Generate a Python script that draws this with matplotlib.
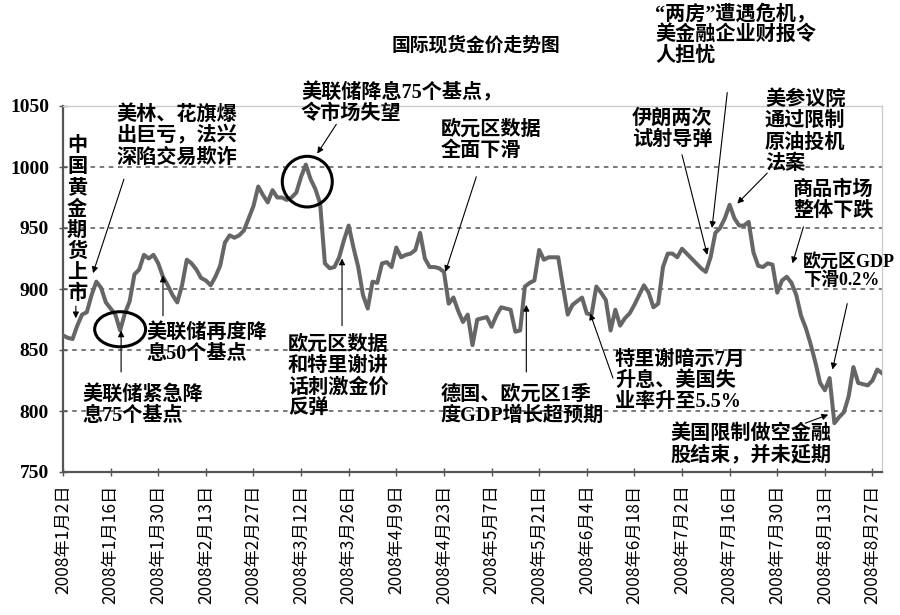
import numpy as np
import pandas as pd
import matplotlib
matplotlib.use('Agg')
import matplotlib.pyplot as plt
from matplotlib.patches import Ellipse

plt.rcParams['font.family'] = ['Liberation Serif', 'Noto Sans CJK SC']
plt.rcParams['axes.unicode_minus'] = False

# 国际现货金价 (美元/盎司), 2008-01-02 起每个交易日
price = [
    862, 860, 859, 870, 879, 881, 895, 906, 901, 889,
    884, 879, 866, 880, 890, 912, 916, 928, 925, 928,
    921, 910, 903, 895, 889, 903, 924, 921, 916, 909,
    907, 903, 910, 919, 938, 944, 942, 944, 948, 958,
    968, 984, 977, 971, 981, 975, 975, 973, 975, 979,
    992, 1002, 990, 982, 970, 921, 917, 918, 926, 940,
    952, 934, 918, 895, 884, 906, 905, 921, 922, 918,
    934, 926, 928, 929, 932, 946, 925, 918, 918, 917,
    914, 888, 893, 882, 873, 879, 854, 875, 876, 877,
    869, 878, 885, 884, 883, 865, 866, 902, 905, 907,
    932, 924, 926, 926, 926, 902, 879, 887, 890, 893,
    880, 879, 902, 897, 891, 866, 883, 870, 876, 880,
    887, 895, 903, 897, 885, 888, 918, 929, 929, 926,
    933, 929, 925, 921, 917, 914, 926, 946, 950, 958,
    969, 958, 952, 952, 955, 930, 919, 918, 921, 920,
    897, 907, 910, 905, 895, 878, 868, 855, 840, 823,
    817, 827, 790, 795, 799, 812, 836, 823, 822, 821,
    825, 834, 831,
]
dates = pd.bdate_range('2008-01-02', periods=len(price))
tick_idx = list(range(0, len(price), 10))
tick_labels = [f"{dates[i].year}年{dates[i].month}月{dates[i].day}日" for i in tick_idx]
y_ticks = [750, 800, 850, 900, 950, 1000, 1050]

# (文字, 左上角像素位置, 箭尾(数据坐标), 箭头(数据坐标))
notes = [
    ("中\n国\n黄\n金\n期\n货\n上\n市", (67, 136), (2.7, 886), (2.7, 876)),
    ("美林、花旗爆\n出巨亏，法兴\n深陷交易欺诈", (116, 105), (12.8, 990), (6.3, 913)),
    ("美联储紧急降\n息75个基点", (82, 385), (12.2, 832), (12.2, 866)),
    ("美联储再度降\n息50个基点", (146, 323), (21.0, 878), (21.0, 911)),
    ("美联储降息75个基点，\n令市场失望", (301, 83), (57.4, 1035), (53.4, 1011)),
    ("欧元区数据\n全面下滑", (441, 120), (86.8, 992), (80.3, 914)),
    ("欧元区数据\n和特里谢讲\n话刺激金价\n反弹", (288, 335), (58.6, 870), (58.6, 925)),
    ("德国、欧元区1季\n度GDP增长超预期", (441, 385), (97.3, 832), (97.3, 887)),
    ("特里谢暗示7月\n升息、美国失\n业率升至5.5%", (615, 350), (115.5, 827), (110.7, 880)),
    ("伊朗两次\n试射导弹", (632, 109), (130.0, 1010), (135.3, 928)),
    ("“两房”遭遇危机，\n美金融企业财报令\n人担忧", (655, 4), (139.5, 1061), (136.3, 950)),
    ("美参议院\n通过限制\n原油投机\n法案", (765, 90), (147.9, 995), (141.6, 970)),
    ("商品市场\n整体下跌", (793, 180), (155.5, 951), (153.2, 921)),
    ("欧元区GDP\n下滑0.2%", (803, 253), (164.7, 888), (161.6, 834)),
    ("美国限制做空金融\n股结束，并未延期", (670, 424), (155.9, 790), (160.7, 797)),
]
small_notes = {"欧元区GDP\n下滑0.2%": 13.0}

W, H = 900, 615
fig = plt.figure(figsize=(9, 6.15), dpi=100)
ax = fig.add_axes([63 / W, 1 - 472 / H, (882 - 63) / W, (472 - 106) / H])

x = np.arange(len(price))
ax.plot(x, price, color='#666666', linewidth=2.9, solid_joinstyle='round', zorder=3)

ax.set_xlim(0, len(price) - 1)
ax.set_ylim(750, 1050)
ax.set_yticks(y_ticks)
ax.set_yticklabels([str(v) for v in y_ticks], fontsize=14, fontweight='bold')
ax.set_xticks(tick_idx)
ax.set_xticklabels(tick_labels, rotation=90, fontsize=12.5, va='top',
                   family='Noto Sans CJK SC')
ax.tick_params(axis='x', direction='inout', length=6, width=1, color='#555555', pad=6)
ax.tick_params(axis='y', direction='inout', length=6, width=1, color='#555555', pad=7)

for v in y_ticks[1:-1]:
    ax.axhline(v, color='#555555', linestyle=(0, (3, 3)), linewidth=1.1, zorder=1)

for side in ['left', 'bottom']:
    ax.spines[side].set_color('#555555')
    ax.spines[side].set_linewidth(1.6)
for side in ['top', 'right']:
    ax.spines[side].set_color('#cccccc')
    ax.spines[side].set_linewidth(1.0)

# 圈出的两个位置
ax.add_patch(Ellipse((12.0, price[12] + 1), 10.7, 28.7, fill=False,
                     edgecolor='black', linewidth=2.2, zorder=4, clip_on=False))
ax.add_patch(Ellipse((51.3, price[51] - 14), 10.5, 41.5, fill=False,
                     edgecolor='black', linewidth=2.2, zorder=4, clip_on=False))

for text, (px, py), tail, tip in notes:
    fig.text(px / W, 1 - py / H, text, ha='left', va='top',
             fontsize=small_notes.get(text, 14.5),
             fontweight='bold', linespacing=1.08)
    ax.annotate('', xy=tip, xytext=tail, annotation_clip=False,
                arrowprops=dict(arrowstyle='-|>', color='black', lw=0.8,
                                mutation_scale=9, shrinkA=0, shrinkB=0))

fig.text(476 / W, 1 - 45 / H, "国际现货金价走势图", ha='center', va='center',
         fontsize=13.5, fontweight='bold')

fig.savefig('out.png', dpi=100)
